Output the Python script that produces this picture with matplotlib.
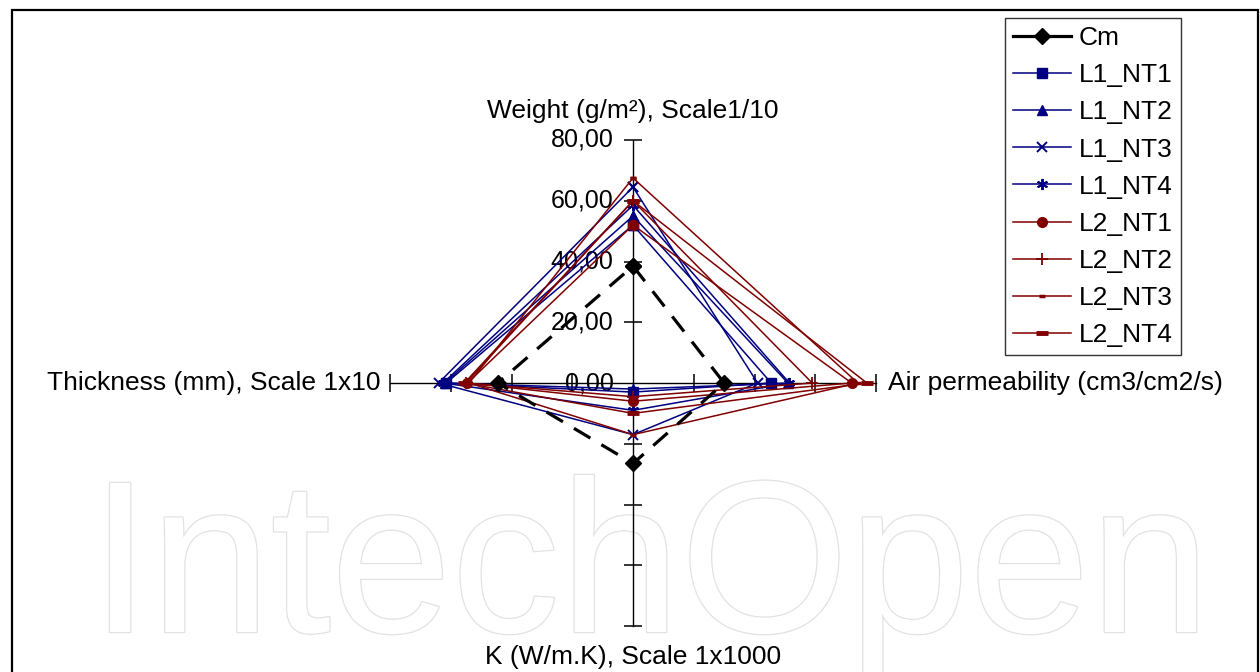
import matplotlib
matplotlib.use("Agg")
import matplotlib.pyplot as plt
import matplotlib.patheffects as pe
import numpy as np
from matplotlib.lines import Line2D
from matplotlib.patches import Rectangle

plt.rcParams["font.family"] = ["Liberation Sans", "DejaVu Sans"]

# radar categories, clockwise from the top
categories = ["Weight (g/m²), Scale1/10", "Air permeability (cm3/cm2/s)",
              "K (W/m.K), Scale 1x1000", "Thickness (mm), Scale 1x10"]
r_ticks = [0, 20, 40, 60, 80]
r_tick_labels = ["0,00", "20,00", "40,00", "60,00", "80,00"]

names = ["Cm", "L1_NT1", "L1_NT2", "L1_NT3", "L1_NT4",
         "L2_NT1", "L2_NT2", "L2_NT3", "L2_NT4"]
cm = [38.5, 30.0, 26.5, 44.5]
l1_nt1 = [52.0, 45.5, 3.0, 61.5]
l1_nt2 = [55.0, 51.0, 2.0, 62.0]
l1_nt3 = [64.5, 41.0, 17.0, 64.0]
l1_nt4 = [58.5, 51.5, 9.0, 62.5]
l2_nt1 = [52.0, 72.0, 6.0, 54.5]
l2_nt2 = [60.0, 59.0, 4.5, 55.0]
l2_nt3 = [67.5, 74.0, 17.0, 54.0]
l2_nt4 = [60.0, 77.0, 10.0, 55.5]
series = [cm, l1_nt1, l1_nt2, l1_nt3, l1_nt4, l2_nt1, l2_nt2, l2_nt3, l2_nt4]

BLUE = "#000080"
RED = "#800000"
styles = [
    dict(color="black", marker="D", ms=8, lw=2.3, ls=(0, (6, 4))),
    dict(color=BLUE, marker="s", ms=7, lw=1.1),
    dict(color=BLUE, marker="^", ms=7, lw=1.1),
    dict(color=BLUE, marker="x", ms=7, mew=1.4, lw=1.1),
    dict(color=BLUE, marker=(6, 2, 0), ms=8, mew=1.4, lw=1.1),
    dict(color=RED, marker="o", ms=7, lw=1.1),
    dict(color=RED, marker="+", ms=9, mew=1.3, lw=1.1),
    dict(color=RED, marker="_", ms=5, mew=2.5, lw=1.1),
    dict(color=RED, marker="_", ms=9, mew=3.5, lw=1.1),
]

W, H = 1260, 672
fig = plt.figure(figsize=(W / 100, H / 100), dpi=100)

# outer frame
fig.patches.append(Rectangle((12 / W, -0.05), 1246 / W, 1.05 - 10 / H,
                             transform=fig.transFigure, fill=False,
                             edgecolor="black", lw=1.6, zorder=5))

# publisher watermark behind the chart
fig.text(90 / W, 40 / H, "IntechOpen", fontsize=156, color="white",
         ha="left", va="baseline", zorder=-2,
         path_effects=[pe.withStroke(linewidth=1.8, foreground="#e2e2e2")])

cx, cy, rad = 633, 383, 243
ax = fig.add_axes([(cx - rad) / W, (H - cy - rad) / H, 2 * rad / W, 2 * rad / H],
                  projection="polar")
ax.set_zorder(1)
ax.set_theta_zero_location("N")
ax.set_theta_direction(-1)
ax.set_ylim(0, 80)
ax.set_axis_off()

angles = np.arange(len(categories)) * 2 * np.pi / len(categories)

# spokes with tick marks
for i, a in enumerate(angles):
    ax.plot([a, a], [0, 80], color="black", lw=1, clip_on=False, zorder=2)
    mk = "_" if i % 2 == 0 else "|"
    ax.plot([a] * 4, r_ticks[1:], ls="none", marker=mk, ms=13, mew=1.1,
            color="black", clip_on=False, zorder=2)

for r, lab in zip(r_ticks, r_tick_labels):
    ax.annotate(lab, (0, r), xytext=(-14, 0), textcoords="offset points",
                ha="right", va="center", fontsize=18, zorder=3)

offsets = [((0, 21), "center", "center"), ((9, 0), "left", "center"),
           ((0, -22), "center", "center"), ((-7, 0), "right", "center")]
for a, lab, (off, ha, va) in zip(angles, categories, offsets):
    ax.annotate(lab, (a, 80), xytext=off, textcoords="offset points",
                ha=ha, va=va, fontsize=19, annotation_clip=False)

theta = np.append(angles, angles[0])
for name, vals, st in zip(names, series, styles):
    ax.plot(theta, vals + vals[:1], label=name, clip_on=False,
            zorder=4 if name == "Cm" else 3, **st)

# legend: Cm shown with a solid line
handles = []
for name, st in zip(names, styles):
    s = dict(st)
    s.pop("ls", None)
    handles.append(Line2D([], [], label=name, **s))
leg = fig.legend(handles=handles, loc="upper right",
                 bbox_to_anchor=(1181 / W, 1 - 18 / H), bbox_transform=fig.transFigure,
                 fontsize=19, frameon=True, fancybox=False, borderaxespad=0,
                 borderpad=0.3, labelspacing=0.5, handlelength=2.2,
                 handletextpad=0.3)
leg.get_frame().set_edgecolor("black")
leg.get_frame().set_linewidth(1)

fig.savefig("out.png", dpi=100)
